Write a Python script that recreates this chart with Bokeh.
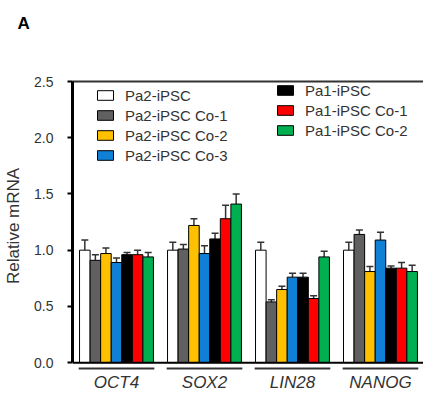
from bokeh.plotting import figure
from bokeh.models import (ColumnDataSource, FixedTicker, LinearAxis, Legend, LegendItem,
                          Whisker, TeeHead, Span, Range1d, PrintfTickFormatter)
from bokeh.embed import file_html
from bokeh.resources import INLINE

# ---- data ----
genes = ["OCT4", "SOX2", "LIN28", "NANOG"]
series = ["Pa2-iPSC", "Pa2-iPSC Co-1", "Pa2-iPSC Co-2", "Pa2-iPSC Co-3",
          "Pa1-iPSC", "Pa1-iPSC Co-1", "Pa1-iPSC Co-2"]

pa2_ipsc = [1.00, 1.00, 1.00, 1.00]
pa2_co1 = [0.91, 1.01, 0.54, 1.14]
pa2_co2 = [0.97, 1.22, 0.65, 0.81]
pa2_co3 = [0.89, 0.97, 0.76, 1.09]
pa1_ipsc = [0.96, 1.10, 0.76, 0.84]
pa1_co1 = [0.96, 1.28, 0.57, 0.84]
pa1_co2 = [0.94, 1.41, 0.94, 0.81]

pa2_ipsc_err = [0.09, 0.07, 0.07, 0.07]
pa2_co1_err = [0.05, 0.04, 0.02, 0.04]
pa2_co2_err = [0.05, 0.06, 0.03, 0.045]
pa2_co3_err = [0.04, 0.07, 0.035, 0.07]
pa1_ipsc_err = [0.02, 0.05, 0.035, 0.02]
pa1_co1_err = [0.04, 0.12, 0.025, 0.05]
pa1_co2_err = [0.04, 0.09, 0.05, 0.055]

y_ticks = [0.0, 0.5, 1.0, 1.5, 2.0, 2.5]

values = [pa2_ipsc, pa2_co1, pa2_co2, pa2_co3, pa1_ipsc, pa1_co1, pa1_co2]
errors = [pa2_ipsc_err, pa2_co1_err, pa2_co2_err, pa2_co3_err, pa1_ipsc_err, pa1_co1_err, pa1_co2_err]
bar_colors = ["#ffffff", "#606060", "#ffc000", "#0f80d6", "#000000", "#ff0000", "#00b050"]

FONT = "Liberation Sans"
TXT = "#333333"

p = figure(width=423, height=394,
           x_range=Range1d(-0.5, 3.489), y_range=Range1d(-0.07, 2.5),
           output_backend="svg", toolbar_location=None,
           min_border_left=72, min_border_right=0, min_border_top=81, min_border_bottom=21)
p.grid.visible = False
p.outline_line_color = None

bw = 0.12
n = len(series)
renderers = []
for j in range(n):
    xs = [i + (j - (n - 1) / 2) * bw for i in range(len(genes))]
    src = ColumnDataSource(dict(x=xs, top=values[j],
                                upper=[v + e for v, e in zip(values[j], errors[j])]))
    r = p.vbar(x="x", top="top", bottom=0, width=bw, source=src,
               fill_color=bar_colors[j], line_color="black", line_width=1)
    renderers.append(r)
    p.add_layout(Whisker(source=src, base="x", lower="top", upper="upper", dimension="height",
                         line_color="#333333", line_width=1.5,
                         upper_head=TeeHead(size=7, line_color="#333333", line_width=1.5),
                         lower_head=None))

# x axis line at 0
p.add_layout(Span(location=0, dimension="width", line_color="black", line_width=2))

# group underlines
gx0 = [i - 0.43 for i in range(len(genes))]
gx1 = [i + 0.43 for i in range(len(genes))]
p.segment(x0=gx0, x1=gx1, y0=[-0.053] * len(genes), y1=[-0.053] * len(genes),
          line_color="#333333", line_width=2)

leg1 = Legend(items=[LegendItem(label=series[k], renderers=[renderers[k]]) for k in range(4)],
              location=(23, 206))
leg2 = Legend(items=[LegendItem(label=series[k], renderers=[renderers[k]]) for k in range(4, 7)],
              location=(203, 231))
for lg in (leg1, leg2):
    lg.glyph_width = 20
    lg.glyph_height = 12
    lg.label_height = 18
    lg.spacing = 2
    lg.padding = 0
    lg.margin = 0
    lg.border_line_color = None
    lg.background_fill_alpha = 0
    lg.label_text_font = FONT
    lg.label_text_font_size = "15px"
    lg.label_text_color = TXT
    lg.label_standoff = 10
    p.add_layout(lg)

# y axis
yax = p.yaxis[0]
yax.ticker = FixedTicker(ticks=y_ticks)
yax.bounds = (0, 2.5)
yax.formatter = PrintfTickFormatter(format="%.1f")
yax.axis_line_width = 3
yax.axis_line_color = "black"
yax.major_tick_out = 5
yax.major_tick_in = 0
yax.major_tick_line_width = 2
yax.major_tick_line_color = "black"
yax.minor_tick_line_color = None
yax.major_label_text_font = FONT
yax.major_label_text_font_size = "14px"
yax.major_label_text_color = TXT
yax.major_label_standoff = 14
yax.axis_label = "Relative mRNA"
yax.axis_label_text_font = FONT
yax.axis_label_text_font_size = "17px"
yax.axis_label_text_font_style = "normal"
yax.axis_label_text_color = TXT
yax.axis_label_standoff = 8

# x axis
xax = p.xaxis[0]
xax.ticker = FixedTicker(ticks=list(range(len(genes))))
xax.major_label_overrides = {i: g for i, g in enumerate(genes)}
xax.axis_line_color = None
xax.major_tick_line_color = None
xax.minor_tick_line_color = None
xax.major_tick_out = 0
xax.major_tick_in = 0
xax.major_label_text_font = FONT
xax.major_label_text_font_size = "17px"
xax.major_label_text_font_style = "italic"
xax.major_label_text_color = TXT
xax.major_label_standoff = 2

# top border line
top_ax = LinearAxis(ticker=FixedTicker(ticks=[]), major_label_text_font_size="0px",
                    axis_line_color="#333333", axis_line_width=2,
                    major_tick_out=0, major_tick_in=0, major_label_standoff=0,
                    major_tick_line_color=None, minor_tick_line_color=None)
p.add_layout(top_ax, "above")

# invisible spacer axis so the panel label sits near the top
spacer_ax = LinearAxis(ticker=FixedTicker(ticks=[1.5]), major_label_text_font_size="0px",
                       major_label_text_alpha=0,
                       axis_line_color=None, major_tick_out=44, major_tick_in=0,
                       major_label_standoff=0,
                       major_tick_line_color=None, minor_tick_line_color=None)
p.add_layout(spacer_ax, "above")

# panel label as title
p.title.text = "A"
p.title.text_font = FONT
p.title.text_font_size = "17px"
p.title.text_font_style = "bold"
p.title.text_color = "black"
p.title.align = "left"
p.title.offset = -55
p.title.standoff = 10

open("out.html", "w").write(file_html(p, INLINE))
